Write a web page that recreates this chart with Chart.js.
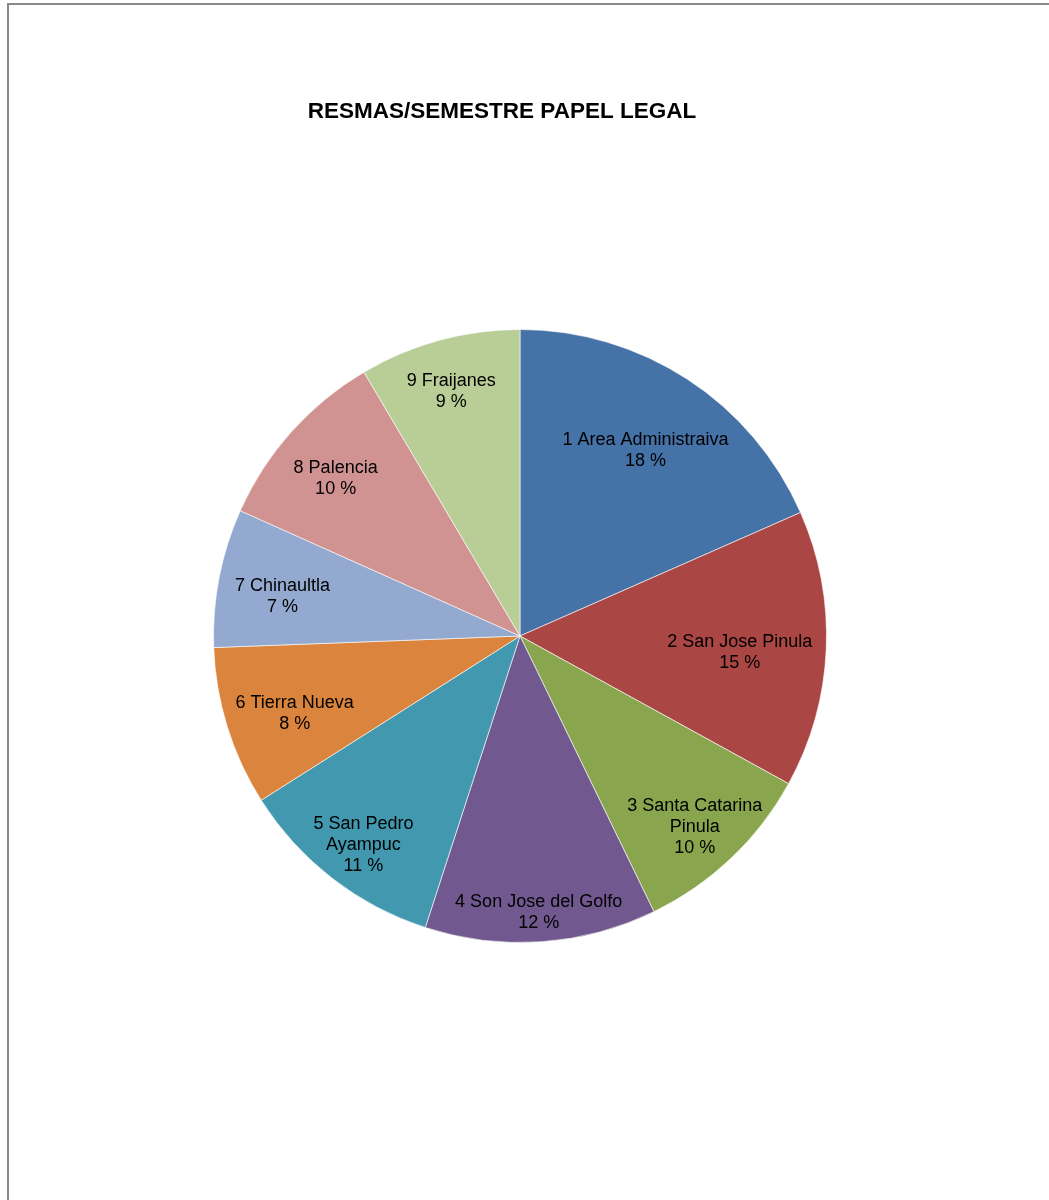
<!DOCTYPE html>
<html lang="es">
<head>
<meta charset="utf-8">
<title>Resmas/Semestre Papel Legal</title>
<script src="https://cdn.jsdelivr.net/npm/chart.js@4.4.1/dist/chart.umd.min.js"></script>
<style>
    html, body { margin: 0; padding: 0; background: #fff; overflow: hidden; }
    #marco {
        position: absolute; left: 7px; top: 3px; width: 1200px; height: 1400px;
        border-top: 2px solid #888; border-left: 2px solid #888;
    }
    #grafica { position: absolute; left: 0; top: 0; display: block; }
</style>
</head>
<body>
<div id="marco"></div>
<canvas id="grafica" width="1049" height="1200"></canvas>
<script>
// Resmas de papel legal por semestre, por oficina
const titulo = 'RESMAS/SEMESTRE PAPEL LEGAL';
const categorias = [
    '1 Area Administraiva',
    '2 San Jose Pinula',
    ['3 Santa Catarina', 'Pinula'],
    '4 Son Jose del Golfo',
    ['5 San Pedro', 'Ayampuc'],
    '6 Tierra Nueva',
    '7 Chinaultla',
    '8 Palencia',
    '9 Fraijanes'
];
const resmas = [18.4, 14.6, 9.8, 12.2, 11.0, 8.4, 7.3, 9.8, 8.5];
const colores = ['#4572A7', '#AA4643', '#89A54E', '#71588F', '#4198AF', '#DB843D', '#93A9CF', '#D19392', '#B9CD96'];

const FUENTE = '"Liberation Sans", Arial, sans-serif';

// Titulo del grafico
const tituloPlugin = {
    id: 'tituloPlugin',
    afterDraw(chart) {
        const ctx = chart.ctx;
        ctx.save();
        ctx.font = 'bold 22.5px ' + FUENTE;
        ctx.fillStyle = '#000';
        ctx.textAlign = 'center';
        ctx.textBaseline = 'alphabetic';
        ctx.fillText(titulo, 502, 118);
        ctx.restore();
    }
};

// Etiquetas dentro de cada porcion: nombre + porcentaje,
// empujadas hacia el borde hasta que el texto queda dentro del circulo
const etiquetasPlugin = {
    id: 'etiquetasPlugin',
    afterDatasetsDraw(chart) {
        const ctx = chart.ctx;
        const meta = chart.getDatasetMeta(0);
        const valores = chart.data.datasets[0].data;
        const total = valores.reduce((a, b) => a + b, 0);
        const altoLinea = 21;
        const margen = 14;
        const bajada = 7; // el texto queda un poco bajo dentro de su caja
        ctx.save();
        ctx.font = '18px ' + FUENTE;
        ctx.fillStyle = '#000';
        ctx.textAlign = 'center';
        ctx.textBaseline = 'middle';
        meta.data.forEach((arco, i) => {
            const p = arco.getProps(['x', 'y', 'startAngle', 'endAngle', 'outerRadius'], true);
            const nombre = chart.data.labels[i];
            const lineas = (Array.isArray(nombre) ? nombre.slice() : [nombre]);
            lineas.push(Math.round(valores[i] / total * 100) + ' %');
            const medioH = lineas.length * altoLinea / 2;
            const ang = (p.startAngle + p.endAngle) / 2;
            const c = Math.cos(ang), s = Math.sin(ang);
            // alcance del bloque de texto en la direccion radial, linea por linea
            let alcance = 0;
            lineas.forEach((t, k) => {
                const mw = ctx.measureText(t).width / 2;
                const y0 = -medioH + altoLinea * k;
                const y1 = y0 + altoLinea;
                const ext = Math.abs(c) * mw + Math.max(s * y0, s * y1);
                alcance = Math.max(alcance, ext);
            });
            const r = p.outerRadius - margen - alcance;
            const cx = p.x + c * r;
            const cy = p.y + s * r + bajada;
            lineas.forEach((t, k) => {
                ctx.fillText(t, cx, cy - medioH + altoLinea * (k + 0.5));
            });
        });
        ctx.restore();
    }
};

new Chart(document.getElementById('grafica').getContext('2d'), {
    type: 'pie',
    data: {
        labels: categorias,
        datasets: [{
            data: resmas,
            backgroundColor: colores,
            borderColor: 'rgba(255,255,255,0.6)',
            borderWidth: 1
        }]
    },
    options: {
        responsive: false,
        animation: false,
        layout: { padding: { left: 213, right: 222, top: 329, bottom: 257 } },
        plugins: {
            legend: { display: false },
            tooltip: { enabled: false },
            title: { display: false }
        }
    },
    plugins: [tituloPlugin, etiquetasPlugin]
});
</script>
</body>
</html>
